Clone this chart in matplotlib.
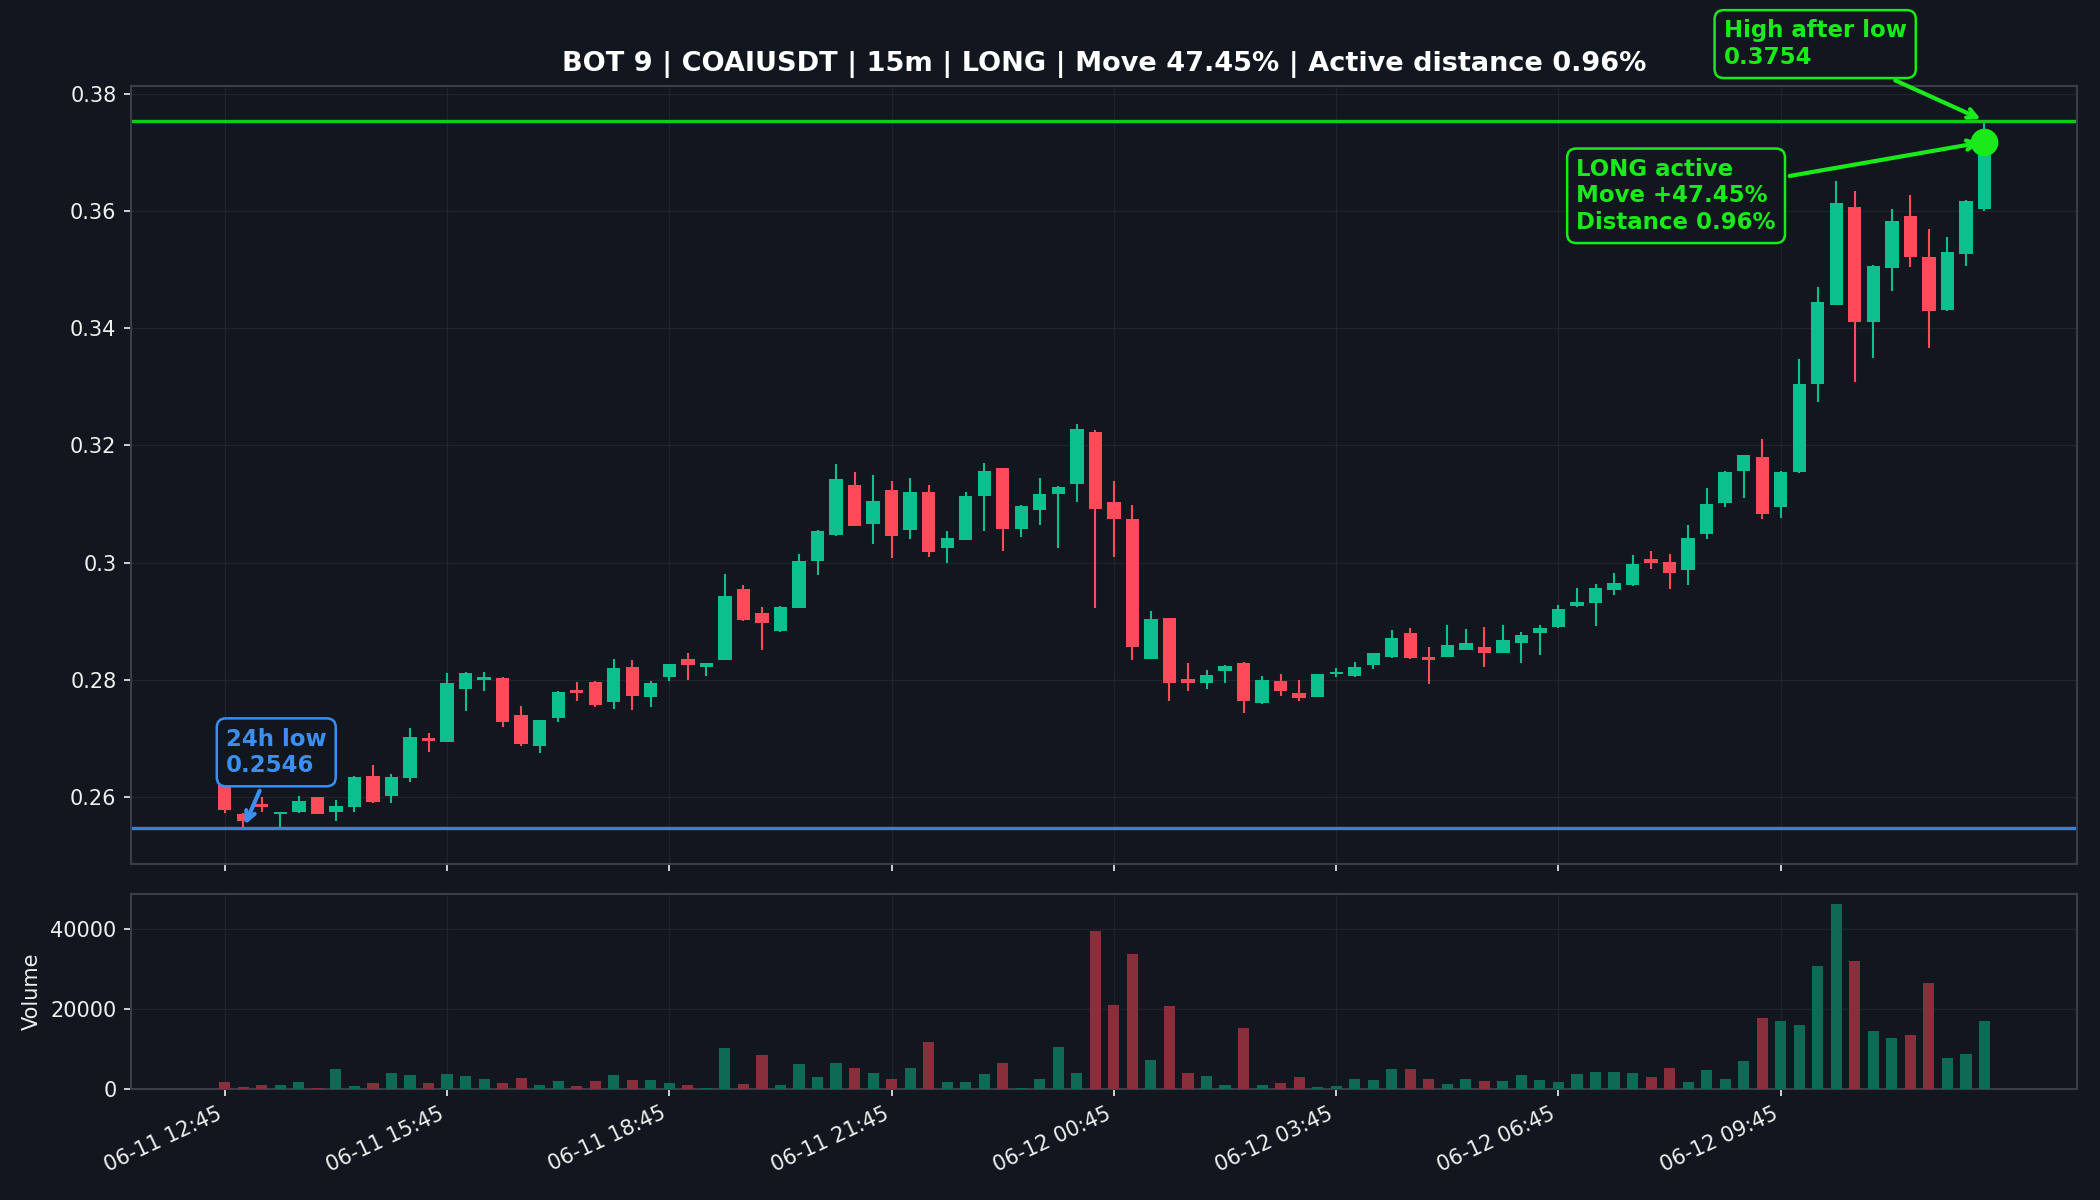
import matplotlib
matplotlib.use("Agg")
import matplotlib.pyplot as plt
from matplotlib.ticker import FuncFormatter
import numpy as np

# ---------------- data ----------------
opens = [0.2620, 0.2571, 0.2588, 0.2570, 0.2574, 0.2599, 0.2574, 0.2582, 0.2636, 0.2602,
         0.2633, 0.2700, 0.2694, 0.2784, 0.2799, 0.2803, 0.2740, 0.2686, 0.2735, 0.2782,
         0.2796, 0.2762, 0.2821, 0.2770, 0.2804, 0.2835, 0.2822, 0.2834, 0.2954, 0.2914,
         0.2883, 0.2923, 0.3002, 0.3047, 0.3132, 0.3066, 0.3124, 0.3056, 0.3120, 0.3024,
         0.3039, 0.3113, 0.3161, 0.3057, 0.3090, 0.3117, 0.3134, 0.3223, 0.3103, 0.3074,
         0.2836, 0.2905, 0.2802, 0.2795, 0.2815, 0.2829, 0.2760, 0.2798, 0.2777, 0.2771,
         0.2810, 0.2806, 0.2825, 0.2838, 0.2880, 0.2838, 0.2839, 0.2851, 0.2856, 0.2846,
         0.2862, 0.2879, 0.2890, 0.2925, 0.2931, 0.2953, 0.2961, 0.3006, 0.3001, 0.2987,
         0.3049, 0.3102, 0.3157, 0.3180, 0.3094, 0.3154, 0.3304, 0.3440, 0.3607, 0.3410,
         0.3502, 0.3592, 0.3522, 0.3431, 0.3526, 0.3603]
highs = [0.2625, 0.2572, 0.2600, 0.2575, 0.2602, 0.2600, 0.2595, 0.2636, 0.2655, 0.2639,
         0.2717, 0.2709, 0.2811, 0.2813, 0.2813, 0.2804, 0.2755, 0.2732, 0.2781, 0.2796,
         0.2798, 0.2835, 0.2833, 0.2797, 0.2827, 0.2845, 0.2829, 0.2981, 0.2961, 0.2924,
         0.2925, 0.3015, 0.3055, 0.3168, 0.3155, 0.3149, 0.3139, 0.3145, 0.3132, 0.3053,
         0.3120, 0.3170, 0.3162, 0.3098, 0.3145, 0.3130, 0.3237, 0.3226, 0.3139, 0.3098,
         0.2918, 0.2906, 0.2829, 0.2817, 0.2825, 0.2830, 0.2807, 0.2809, 0.2799, 0.2810,
         0.2820, 0.2831, 0.2846, 0.2884, 0.2889, 0.2855, 0.2894, 0.2887, 0.2890, 0.2893,
         0.2882, 0.2893, 0.2927, 0.2957, 0.2964, 0.2982, 0.3013, 0.3020, 0.3015, 0.3064,
         0.3127, 0.3156, 0.3184, 0.3211, 0.3156, 0.3347, 0.3470, 0.3652, 0.3635, 0.3508,
         0.3603, 0.3627, 0.3569, 0.3556, 0.3618, 0.3754]
lows = [0.2572, 0.2546, 0.2575, 0.2548, 0.2573, 0.2570, 0.2558, 0.2575, 0.2590, 0.2589,
        0.2626, 0.2677, 0.2693, 0.2747, 0.2781, 0.2720, 0.2687, 0.2675, 0.2727, 0.2764,
        0.2753, 0.2750, 0.2748, 0.2754, 0.2798, 0.2800, 0.2807, 0.2833, 0.2901, 0.2850,
        0.2882, 0.2922, 0.2979, 0.3045, 0.3063, 0.3032, 0.3007, 0.3041, 0.3009, 0.3000,
        0.3038, 0.3053, 0.3019, 0.3043, 0.3064, 0.3025, 0.3104, 0.2922, 0.3009, 0.2834,
        0.2835, 0.2763, 0.2781, 0.2784, 0.2794, 0.2743, 0.2759, 0.2772, 0.2763, 0.2770,
        0.2805, 0.2805, 0.2819, 0.2837, 0.2835, 0.2793, 0.2838, 0.2850, 0.2822, 0.2845,
        0.2829, 0.2842, 0.2889, 0.2924, 0.2891, 0.2944, 0.2960, 0.2989, 0.2954, 0.2962,
        0.3041, 0.3094, 0.3111, 0.3075, 0.3076, 0.3153, 0.3274, 0.3439, 0.3308, 0.3349,
        0.3463, 0.3504, 0.3366, 0.3430, 0.3507, 0.3600]
closes = [0.2578, 0.2558, 0.2582, 0.2575, 0.2593, 0.2571, 0.2585, 0.2634, 0.2592, 0.2634,
          0.2703, 0.2696, 0.2794, 0.2812, 0.2805, 0.2728, 0.2690, 0.2731, 0.2779, 0.2777,
          0.2757, 0.2820, 0.2772, 0.2795, 0.2826, 0.2825, 0.2828, 0.2943, 0.2902, 0.2896,
          0.2924, 0.3003, 0.3054, 0.3143, 0.3063, 0.3105, 0.3046, 0.3120, 0.3018, 0.3042,
          0.3114, 0.3156, 0.3057, 0.3097, 0.3117, 0.3129, 0.3228, 0.3091, 0.3074, 0.2856,
          0.2903, 0.2794, 0.2795, 0.2808, 0.2824, 0.2764, 0.2800, 0.2780, 0.2769, 0.2809,
          0.2813, 0.2821, 0.2845, 0.2872, 0.2837, 0.2833, 0.2860, 0.2862, 0.2846, 0.2868,
          0.2877, 0.2889, 0.2921, 0.2933, 0.2956, 0.2965, 0.2998, 0.3000, 0.2982, 0.3042,
          0.3100, 0.3155, 0.3183, 0.3083, 0.3154, 0.3304, 0.3445, 0.3614, 0.3410, 0.3507,
          0.3583, 0.3522, 0.3429, 0.3530, 0.3617, 0.3718]
volumes = [1700, 300, 830, 830, 1660, 100, 4820, 580, 1330, 3820,
           3320, 1330, 3570, 3070, 2330, 1330, 2580, 830, 1830, 580,
           1830, 3320, 2080, 2080, 1330, 830, 100, 10050, 1080, 8310,
           830, 6070, 2830, 6320, 5070, 3820, 2330, 5070, 11550, 1580,
           1580, 3570, 6320, 200, 2330, 10300, 3820, 39470, 20780, 33740,
           7060, 20530, 3820, 3070, 830, 15040, 830, 1330, 2830, 330,
           580, 2330, 2080, 4820, 4820, 2330, 1080, 2330, 1830, 1830,
           3320, 2080, 1580, 3570, 4070, 4070, 3820, 2830, 5070, 1580,
           4570, 2330, 6810, 17530, 16790, 15790, 30750, 46200, 32000, 14290,
           12550, 13300, 26510, 7560, 8560, 16790]
tick_labels = ["06-11 12:45", "06-11 15:45", "06-11 18:45", "06-11 21:45",
               "06-12 00:45", "06-12 03:45", "06-12 06:45", "06-12 09:45"]
low_24h = 0.2546
high_after_low = 0.3754
move_pct = 47.45
dist_pct = 0.96
title = "BOT 9 | COAIUSDT | 15m | LONG | Move 47.45% | Active distance 0.96%"

# ---------------- style ----------------
BG = "#12161e"
GRID = "#2a2e38"
SPINE = "#3a3e48"
TXT = "#f0f0f0"
UP = "#0cbf8f"
DOWN = "#ff4a5a"
UP_V = "#0e6a55"
DOWN_V = "#882f3b"
LIME = "#19ea19"
BLUE = "#3a8ff0"

plt.rcParams['font.family'] = ['DejaVu Sans']

fig = plt.figure(figsize=(14, 8), dpi=150, facecolor=BG)
ax = fig.add_axes([0.0624, 0.2803, 0.9267, 0.6483])
axv = fig.add_axes([0.0624, 0.0928, 0.9267, 0.1618], sharex=ax)

o = np.array(opens); h = np.array(highs); l = np.array(lows); c = np.array(closes)
v = np.array(volumes)
x = np.arange(len(o))
up = c >= o
cols = np.where(up, UP, DOWN)
vcols = np.where(up, UP_V, DOWN_V)

for a in (ax, axv):
    a.set_facecolor(BG)
    for s in a.spines.values():
        s.set_color(SPINE)
        s.set_linewidth(1.0)
    a.tick_params(colors=TXT, labelsize=10)
    a.grid(True, color=GRID, linewidth=0.6, alpha=0.55)
    a.set_axisbelow(True)

# candles
ax.vlines(x, l, h, colors=cols, linewidth=1.0, zorder=2)
body_bottom = np.minimum(o, c)
body_h = np.maximum(np.abs(c - o), 0.00025)
ax.bar(x, body_h, bottom=body_bottom, width=0.72, color=cols, zorder=3)

ax.axhline(high_after_low, color=LIME, linewidth=1.6, alpha=0.85, zorder=1.5)
ax.axhline(low_24h, color=BLUE, linewidth=1.6, alpha=0.9, zorder=1.5)

ax.scatter([x[-1]], [c[-1]], s=150, color=LIME, zorder=6)

ax.set_xlim(-5.06, 100.0)
ax.set_ylim(0.2486, 0.3814)
ax.yaxis.set_major_formatter(FuncFormatter(lambda val, pos: f"{val:g}"))
ax.set_title(title, color="white", fontsize=13, fontweight="bold", pad=7)
plt.setp(ax.get_xticklabels(), visible=False)

bbox_kw = dict(boxstyle="round,pad=0.4", facecolor=BG, linewidth=1.2)

i_low = int(np.argmin(l))
ax.annotate(f"24h low\n{low_24h:.4f}", xy=(x[i_low], low_24h), xytext=(2.78, 0.2676),
            textcoords="data", ha="center", va="center", multialignment="left",
            color=BLUE, fontsize=11, fontweight="bold",
            bbox=dict(edgecolor=BLUE, **bbox_kw),
            arrowprops=dict(arrowstyle="->", color=BLUE, lw=2), zorder=7)

i_high = int(np.argmax(h))
ax.annotate(f"High after low\n{high_after_low:.4f}", xy=(x[i_high], high_after_low),
            xytext=(85.86, 0.3885), textcoords="data", ha="center", va="center",
            multialignment="left", color=LIME, fontsize=11, fontweight="bold",
            bbox=dict(edgecolor=LIME, **bbox_kw), annotation_clip=False,
            arrowprops=dict(arrowstyle="->", color=LIME, lw=2), zorder=7)

ax.annotate(f"LONG active\nMove +{move_pct:.2f}%\nDistance {dist_pct:.2f}%",
            xy=(x[-1], c[-1]), xytext=(78.35, 0.3626), textcoords="data",
            ha="center", va="center", multialignment="left", color=LIME,
            fontsize=11, fontweight="bold", bbox=dict(edgecolor=LIME, **bbox_kw),
            arrowprops=dict(arrowstyle="->", color=LIME, lw=2), zorder=7)

# volume
axv.bar(x, v, width=0.6, color=vcols, zorder=3)
axv.set_ylim(0, 48510)
axv.set_yticks([0, 20000, 40000])
axv.set_ylabel("Volume", color=TXT, fontsize=10)
axv.set_xticks(x[::12])
axv.set_xticklabels(tick_labels, rotation=25, ha="right")

fig.savefig("out.png", dpi=150, facecolor=BG)
